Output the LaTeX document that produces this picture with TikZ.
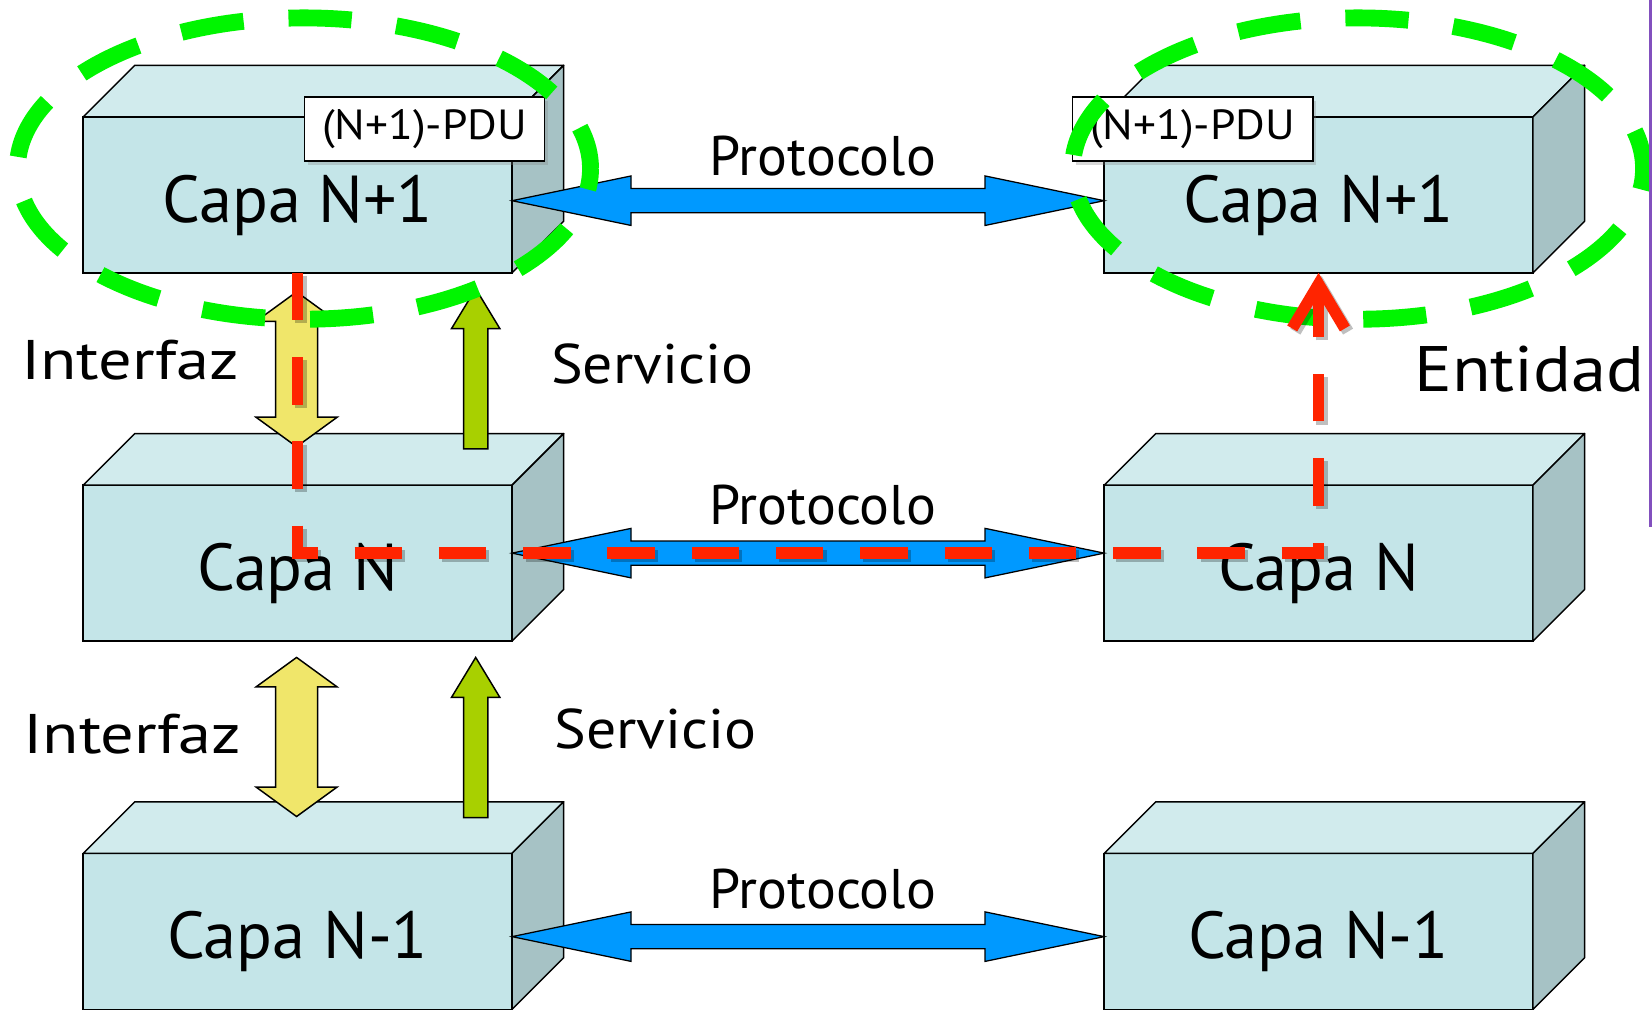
\documentclass[tikz,border=0pt]{standalone}
\usepackage{fontspec}
\usepackage{graphicx}
\setmainfont{PT Sans}
\usetikzlibrary{calc,arrows.meta,shadows}
\definecolor{frontc}{RGB}{196,229,232}
\definecolor{topc}{RGB}{209,235,237}
\definecolor{sidec}{RGB}{166,194,197}
\definecolor{blueA}{RGB}{0,153,255}
\definecolor{yellowA}{RGB}{240,230,106}
\definecolor{greenA}{RGB}{168,208,0}
\definecolor{redD}{RGB}{255,36,0}
\definecolor{greenE}{RGB}{0,245,0}
\definecolor{purpleB}{RGB}{130,80,190}
\tikzset{
  frontbox/.style={draw=black, line width=1.4pt, fill=frontc, minimum width=407pt, minimum height=148pt, inner sep=0pt, outer sep=0pt},
  facetop/.style={draw=black, line width=1.4pt, fill=topc, line join=round},
  faceside/.style={draw=black, line width=1.4pt, fill=sidec, line join=round},
  capa/.style={font=\fontsize{63}{70}\selectfont, inner sep=0pt, anchor=base},
  lbl/.style={font=\fontsize{53}{60}\selectfont, inner sep=0pt, anchor=base west},
  pdu/.style={draw=black, line width=1.4pt, fill=white, minimum width=228pt, minimum height=61pt, inner sep=0pt, font=\fontsize{40}{44}\selectfont, drop shadow={shadow xshift=3pt, shadow yshift=-4pt, opacity=0.3}},
  protoarrow/.style={draw=black, line width=1.2pt, fill=blueA, line join=miter},
  ifarrow/.style={draw=black, line width=1.4pt, fill=yellowA},
  svarrow/.style={draw=black, line width=1.4pt, fill=greenA},
  entidad/.style={draw=greenE, line width=16pt, dash pattern=on 60pt off 42.7pt, dash phase=40pt},
  redpath/.style={draw=redD, line width=11pt, dash pattern=on 45pt off 35pt},
}
\newcommand{\cubo}[4]{%
  \node[frontbox] (#1) at (#2,#3) {};
  \path[facetop] (#1.north west) -- ++(49,-49) -- ($(#1.north east)+(49,-49)$) -- (#1.north east) -- cycle;
  \path[faceside] (#1.north east) -- ++(49,-49) -- ($(#1.south east)+(49,-49)$) -- (#1.south east) -- cycle;
  \node[capa] (#1t) at ($(#1.north)+(0,100)$) {#4};
}
\newcommand{\protarrow}[2]{%
  \path[protoarrow] (#1) -- ($(#1)+(113,-23.5)$) -- ($(#1)+(113,-11.5)$) -- ($(#2)+(-113,-11.5)$) -- ($(#2)+(-113,-23.5)$) -- (#2) -- ($(#2)+(-113,23.5)$) -- ($(#2)+(-113,11.5)$) -- ($(#1)+(113,11.5)$) -- ($(#1)+(113,23.5)$) -- cycle;}
\newcommand{\ifzarrow}[2]{%
  \path[ifarrow] (#1) -- ($(#1)+(38.5,28)$) -- ($(#1)+(20,28)$) -- ($(#2)+(20,-28)$) -- ($(#2)+(38.5,-28)$) -- (#2) -- ($(#2)+(-38.5,-28)$) -- ($(#2)+(-20,-28)$) -- ($(#1)+(-20,28)$) -- ($(#1)+(-38.5,28)$) -- cycle;}
\newcommand{\srvarrow}[2]{%
  \path[svarrow] (#1) -- ($(#1)+(23,38)$) -- ($(#1)+(11.5,38)$) -- ($(#2)+(11.5,0)$) -- ($(#2)+(-11.5,0)$) -- ($(#1)+(-11.5,38)$) -- ($(#1)+(-23,38)$) -- cycle;}
\begin{document}
\begin{tikzpicture}[x=1pt,y=-1pt]
\useasboundingbox (0,0) rectangle (1568,958);
\fill[white] (0,0) rectangle (1568,958);
% boxes
\cubo{L1}{282.5}{185}{Capa N+1}
\cubo{R1}{1251.5}{185}{Capa N+1}
\cubo{L2}{282.5}{534.5}{Capa N}
\cubo{R2}{1251.5}{534.5}{Capa N}
\cubo{L3}{282.5}{884}{Capa N-1}
\cubo{R3}{1251.5}{884}{Capa N-1}
% PDU labels
\node[pdu] (pduL) at (403,122.5) {\scalebox{1.08}[1]{(N+1)-PDU}};
\node[pdu] (pduR) at (1132,122.5) {\scalebox{1.08}[1]{(N+1)-PDU}};
% protocol arrows
\coordinate (pa1) at ($(L1.east)+(0,5.5)$);
\coordinate (pb1) at ($(R1.west)+(0,5.5)$);
\coordinate (pa2) at ($(L2.east)+(0,-9.5)$);
\coordinate (pb2) at ($(R2.west)+(0,-9.5)$);
\coordinate (pa3) at ($(L3.east)+(0,5)$);
\coordinate (pb3) at ($(R3.west)+(0,5)$);
\protarrow{pa1}{pb1}
\protarrow{pa2}{pb2}
\protarrow{pa3}{pb3}
\node[lbl, anchor=base] (prot1) at (781,167) {Protocolo};
\node[lbl, anchor=base] (prot2) at (781,498) {Protocolo};
\node[lbl, anchor=base] (prot3) at (781,862) {Protocolo};
% interface and service arrows
\coordinate (it1) at (281.5,277);
\coordinate (ib1) at (281.5,424);
\coordinate (it2) at (281.5,624);
\coordinate (ib2) at (281.5,775);
\coordinate (st1) at (451.5,274);
\coordinate (sb1) at (451.5,426);
\coordinate (st2) at (451.5,624);
\coordinate (sb2) at (451.5,776);
\ifzarrow{it1}{ib1}
\ifzarrow{it2}{ib2}
\srvarrow{st1}{sb1}
\srvarrow{st2}{sb2}
\node[lbl] (if1) at (20,360) {\scalebox{1.19}[1]{Interfaz}};
\node[lbl] (if2) at (22,715) {\scalebox{1.19}[1]{Interfaz}};
\node[lbl] (sv1) at (523,364) {\scalebox{1.07}[1]{Servicio}};
\node[lbl] (sv2) at (526,710) {\scalebox{1.07}[1]{Servicio}};
\node[lbl, font=\fontsize{61}{68}\selectfont] (ent) at (1342,372) {\scalebox{1.1}[1]{Entidad}};
% entity ellipses
\draw[entidad] (288.5,160) ellipse [x radius=272, y radius=143];
\draw[entidad] (1289,160) ellipse [x radius=271, y radius=143];
% red path
\coordinate (rc1) at ($(L1.south)+(0,266)$);
\coordinate (rc2) at ($(R1.south)+(0,266)$);
\draw[redpath, draw=black, opacity=0.25, transform canvas={xshift=3pt,yshift=-3pt}, -{Straight Barb[length=42pt,width=50pt]}] (L1.south) -- (rc1) -- (rc2) -- (R1.south);
\draw[redpath, -{Straight Barb[length=42pt,width=50pt]}] (L1.south) -- (rc1) -- (rc2) -- (R1.south);
% slide edge bar
\fill[purpleB] (1565,0) rectangle (1568,500);
\end{tikzpicture}
\end{document}
